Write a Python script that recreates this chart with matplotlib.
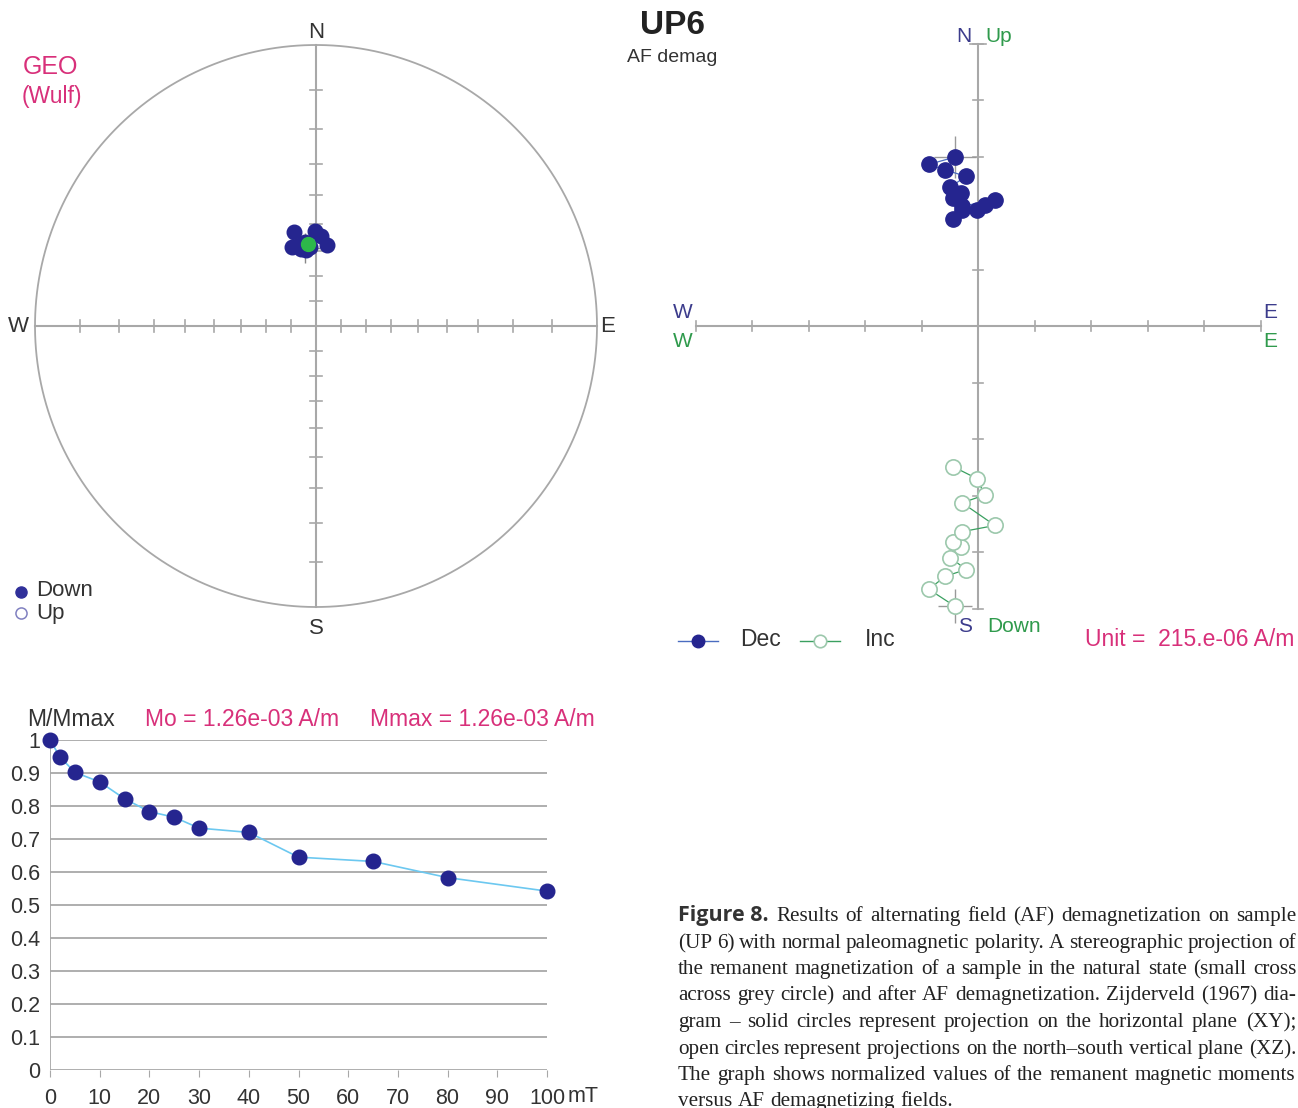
import numpy as np
import matplotlib

matplotlib.use("Agg")
import matplotlib.pyplot as plt

W, H = 1298, 1108

# AF demagnetization steps (mT) and normalized intensity
fields = [0, 2, 5, 10, 15, 20, 25, 30, 40, 50, 65, 80, 100]
m_norm = [1.0, 0.949, 0.902, 0.873, 0.822, 0.783, 0.766, 0.733, 0.720, 0.645, 0.632, 0.583, 0.542]

# vector components for each step, in plot units (Unit = 215.e-06 A/m)
comp_east = [-0.41, -0.87, -0.58, -0.21, -0.49, -0.30, -0.44, -0.28, 0.30, -0.28, 0.12, -0.02, -0.44]
comp_north = [2.99, 2.86, 2.76, 2.65, 2.46, 2.35, 2.26, 2.12, 2.23, 2.05, 2.14, 2.05, 1.89]
comp_up = [-4.96, -4.66, -4.43, -4.31, -4.10, -3.92, -3.83, -3.64, -3.53, -3.13, -2.99, -2.70, -2.49]

# mean direction shown in green on the stereonet
mean_dec, mean_inc = 354.4, 57.3

y_ticks = [0, 0.1, 0.2, 0.3, 0.4, 0.5, 0.6, 0.7, 0.8, 0.9, 1.0]
y_labels = ["0", "0.1", "0.2", "0.3", "0.4", "0.5", "0.6", "0.7", "0.8", "0.9", "1"]
x_ticks = [0, 10, 20, 30, 40, 50, 60, 70, 80, 90, 100]
x_labels = ["0", "10", "20", "30", "40", "50", "60", "70", "80", "90", "100"]

caption = [
    "Figure 8. Results of alternating field (AF) demagnetization on sample",
    "(UP 6) with normal paleomagnetic polarity. A stereographic projection of",
    "the remanent magnetization of a sample in the natural state (small cross",
    "across grey circle) and after AF demagnetization. Zijderveld (1967) dia-",
    "gram \u2013 solid circles represent projection on the horizontal plane (XY);",
    "open circles represent projections on the north\u2013south vertical plane (XZ).",
    "The graph shows normalized values of the remanent magnetic moments",
    "versus AF demagnetizing fields.",
]

NAVY = "#25258f"
GREY = "#a8a8a8"
BLUE_LBL = "#3c3c8c"
GREEN_LBL = "#2f9a4c"
MAGENTA = "#d8307a"
TXT = "#333333"
SANS = "Liberation Sans"

plt.rcParams["font.family"] = [SANS, "DejaVu Sans"]


def fx(px):
    return px / W


def fy(py):
    return 1 - py / H


def ftext(px, py, s, **kw):
    kw.setdefault("ha", "center")
    kw.setdefault("va", "center")
    kw.setdefault("color", TXT)
    return fig.text(fx(px), fy(py), s, **kw)


fig = plt.figure(figsize=(W / 100, H / 100), dpi=100)

# ---------------- stereonet (Wulff, equal angle) ----------------
cx, cy, R = 316, 326, 281
ax1 = fig.add_axes([0, fy(660), fx(640), 660 / H])
ax1.set_xlim((0 - cx) / R, (640 - cx) / R)
ax1.set_ylim((cy - 660) / R, cy / R)
ax1.axis("off")

t = np.linspace(0, 2 * np.pi, 500)
ax1.plot(np.cos(t), np.sin(t), color=GREY, lw=1.3)
ax1.plot([-1, 1], [0, 0], color=GREY, lw=1.5)
ax1.plot([0, 0], [-1, 1], color=GREY, lw=1.5)
d = 0.02
for k in range(1, 9):
    r = np.tan(np.radians(5 * k))
    for s in (-1, 1):
        ax1.plot([s * r, s * r], [-d, d], color=GREY, lw=1.2)
        ax1.plot([-d, d], [s * r, s * r], color=GREY, lw=1.2)

east = np.array(comp_east)
north = np.array(comp_north)
down = -np.array(comp_up)
dec = np.degrees(np.arctan2(east, north))
inc = np.degrees(np.arctan2(down, np.hypot(east, north)))
rr = np.tan(np.radians((90 - inc) / 2))
sx = rr * np.sin(np.radians(dec))
sy = rr * np.cos(np.radians(dec))
ax1.plot(sx[0], sy[0], marker="+", ms=22, mew=1.0, color="#888888", zorder=2)
ax1.plot(sx, sy, "o", ms=10.5, color=NAVY, mec=NAVY, zorder=3)
mr = np.tan(np.radians((90 - mean_inc) / 2))
ax1.plot(mr * np.sin(np.radians(mean_dec)), mr * np.cos(np.radians(mean_dec)),
         "o", ms=10, color="#2db84a", mec="#2db84a", zorder=4)

ftext(316, 33, "N", fontsize=16)
ftext(316, 629, "S", fontsize=16)
ftext(18, 327, "W", fontsize=16)
ftext(608, 327, "E", fontsize=16)
ftext(50, 67, "GEO", fontsize=18, color=MAGENTA)
ftext(52, 97, "(Wulf)", fontsize=16.5, color=MAGENTA)

leg = fig.add_axes([0, 0, 1, 1])
leg.set_xlim(0, W)
leg.set_ylim(H, 0)
leg.axis("off")
leg.plot([21], [592], "o", ms=8, color="#30309a")
leg.plot([21], [613], "o", ms=8, mfc="white", mec="#8080c0", mew=1.1)
ftext(36, 591, "Down", fontsize=16, ha="left")
ftext(36, 613, "Up", fontsize=16, ha="left")

ftext(672, 26, "UP6", fontsize=24, fontweight="bold", color="#222222")
ftext(672, 57, "AF demag", fontsize=14)

# ---------------- Zijderveld diagram ----------------
zx, zy, U = 978, 326, 56.5
ax2 = fig.add_axes([fx(650), fy(660), (1298 - 650) / W, 660 / H])
ax2.set_xlim((650 - zx) / U, (1298 - zx) / U)
ax2.set_ylim((zy - 660) / U, zy / U)
ax2.axis("off")
ax2.plot([-5, 5], [0, 0], color=GREY, lw=1.5)
ax2.plot([0, 0], [-5, 5], color=GREY, lw=1.5)
dz = 0.09
for k in range(1, 6):
    for s in (-1, 1):
        ax2.plot([s * k, s * k], [-dz, dz], color=GREY, lw=1.2)
        ax2.plot([-dz, dz], [s * k, s * k], color=GREY, lw=1.2)
ax2.plot([-0.15, 0.15], [5, 5], color=GREY, lw=1.2)

ax2.plot(comp_east[0], comp_north[0], marker="+", ms=30, mew=1.0, color="#999999", zorder=2)
ax2.plot(comp_east[0], comp_up[0], marker="+", ms=24, mew=1.0, color="#999999", zorder=2)
ax2.plot(comp_east, comp_north, "-", color="#4a6cc0", lw=0.9, zorder=3)
ax2.plot(comp_east, comp_north, "o", ms=11, color=NAVY, mec=NAVY, zorder=4)
ax2.plot(comp_east, comp_up, "-", color="#3aa060", lw=0.9, zorder=3)
ax2.plot(comp_east, comp_up, "o", ms=11, mfc="white", mec="#9cc8ac", mew=1.2, zorder=4)

ftext(964, 37, "N", fontsize=15, color=BLUE_LBL)
ftext(999, 37, "Up", fontsize=15, color=GREEN_LBL)
ftext(683, 313, "W", fontsize=15, color=BLUE_LBL)
ftext(683, 342, "W", fontsize=15, color=GREEN_LBL)
ftext(1270, 313, "E", fontsize=15, color=BLUE_LBL)
ftext(1270, 342, "E", fontsize=15, color=GREEN_LBL)
ftext(965, 627, "S", fontsize=15, color=BLUE_LBL)
ftext(1014, 627, "Down", fontsize=15, color=GREEN_LBL)

leg.plot([678, 718], [641, 641], color="#4a6cc0", lw=1)
leg.plot([698], [641], "o", ms=9, color=NAVY)
leg.plot([800, 840], [641, 641], color="#3aa060", lw=1)
leg.plot([820], [641], "o", ms=9, mfc="white", mec="#9cc8ac", mew=1.2)
ftext(740, 640, "Dec", fontsize=16.5, ha="left")
ftext(865, 640, "Inc", fontsize=16.5, ha="left")
ftext(1085, 640, "Unit =  215.e-06 A/m", fontsize=16.5, ha="left", color=MAGENTA)

# ---------------- M/Mmax vs field ----------------
ax3 = fig.add_axes([fx(50), fy(1070), (547 - 50) / W, 330 / H])
ax3.set_xlim(0, 100)
ax3.set_ylim(0, 1)
for v in y_ticks:
    ax3.axhline(v, color=GREY, lw=1.3, zorder=1)
for s in ax3.spines.values():
    s.set_visible(False)
ax3.axvline(0, color=GREY, lw=1.3, zorder=1)
ax3.set_yticks(y_ticks)
ax3.set_yticklabels(y_labels, fontsize=15.5, color=TXT)
ax3.set_xticks(x_ticks)
ax3.set_xticklabels(x_labels, fontsize=15.5, color=TXT)
ax3.tick_params(axis="y", length=0, pad=7)
ax3.tick_params(axis="x", length=5, color=GREY, pad=8)
ax3.plot(fields, m_norm, "-", color="#6cc8f0", lw=1.2, zorder=2, clip_on=False)
ax3.plot(fields, m_norm, "o", ms=10.5, color=NAVY, zorder=3, clip_on=False)
ftext(568, 1097, "mT", fontsize=15.5, ha="left")

ftext(27, 720, "M/Mmax", fontsize=16.5, ha="left")
ftext(145, 720, "Mo = 1.26e-03 A/m", fontsize=16.5, ha="left", color=MAGENTA)
ftext(370, 720, "Mmax = 1.26e-03 A/m", fontsize=16.5, ha="left", color=MAGENTA)

# ---------------- caption, justified ----------------
renderer = fig.canvas.get_renderer()
cap_x0, cap_x1 = 678, 1296
bold = dict(fontsize=15.5, family="Open Sans", fontweight="bold", color="#333333")


def measure(s, **kw):
    tmp = fig.text(0, 0, s, **kw)
    w = tmp.get_window_extent(renderer).width
    tmp.remove()
    return w


# pick the serif size so the tightest line fits with plain word spacing
probe = dict(fontsize=10, family="Liberation Serif")
natural = [measure(line, **probe) for line in caption[1:-1]]
serif_size = round(10 * (cap_x1 - cap_x0) / max(natural), 1)
serif = dict(fontsize=serif_size, family="Liberation Serif", color="#222222")
space_w = measure("a a", **serif) - measure("aa", **serif)

for i, line in enumerate(caption):
    words = line.split(" ")
    if i == 0:
        words = [words[0] + " " + words[1]] + words[2:]
    base = round(921 + i * 26.5)
    objs = []
    for j, wd in enumerate(words):
        style = bold if (i == 0 and j == 0) else serif
        objs.append(fig.text(0, fy(base), wd, va="baseline", ha="left", **style))
    widths = [o.get_window_extent(renderer).width for o in objs]
    if i == len(caption) - 1:
        gap = space_w
    else:
        gap = (cap_x1 - cap_x0 - sum(widths)) / (len(words) - 1)
    x = cap_x0
    for o, wdt in zip(objs, widths):
        o.set_x(fx(round(x)))
        x += wdt + gap

fig.savefig("out.png", dpi=100)
